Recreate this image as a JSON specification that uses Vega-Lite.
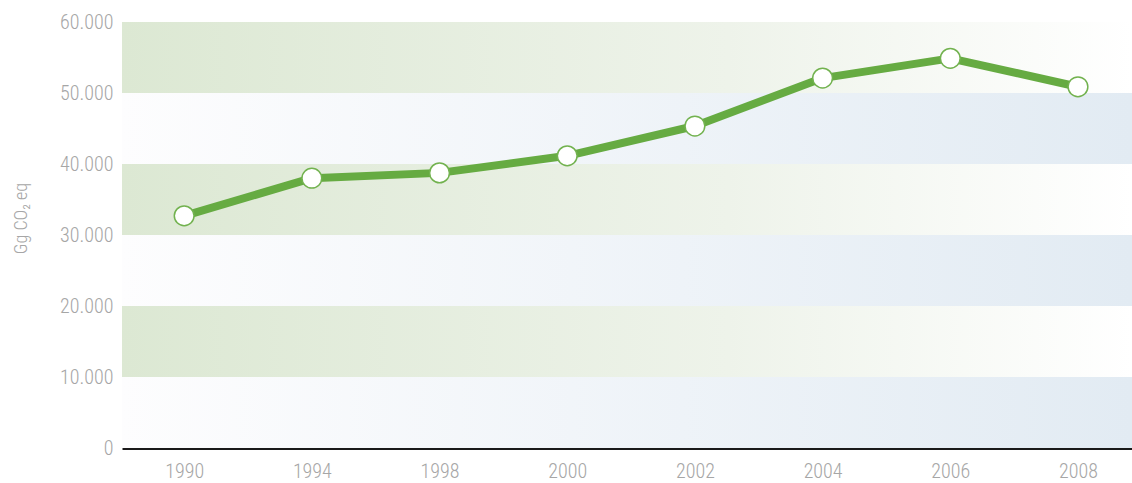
{
  "$schema": "https://vega.github.io/schema/vega-lite/v6.json",
  "width": 1010,
  "height": 426,
  "autosize": {"type": "none"},
  "padding": {"left": 122, "top": 22, "right": 0, "bottom": 35},
  "background": "#ffffff",
  "config": {
    "view": {"stroke": null},
    "font": "Roboto Condensed, DejaVu Sans Condensed, sans-serif"
  },
  "datasets": {
    "series": [
      {"year": "1990", "value": 32700},
      {"year": "1994", "value": 38000},
      {"year": "1998", "value": 38750},
      {"year": "2000", "value": 41150},
      {"year": "2002", "value": 45350},
      {"year": "2004", "value": 52100},
      {"year": "2006", "value": 54880},
      {"year": "2008", "value": 50880}
    ],
    "bands": [
      {"lo": 0, "hi": 10000, "kind": "blue"},
      {"lo": 10000, "hi": 20000, "kind": "green"},
      {"lo": 20000, "hi": 30000, "kind": "blue"},
      {"lo": 30000, "hi": 40000, "kind": "green"},
      {"lo": 40000, "hi": 50000, "kind": "blue"},
      {"lo": 50000, "hi": 60000, "kind": "green"}
    ]
  },
  "layer": [
    {
      "data": {"name": "bands"},
      "transform": [{"filter": "datum.kind === 'green'"}],
      "mark": {
        "type": "rect",
        "color": {
          "gradient": "linear", "x1": 0, "x2": 1, "y1": 0, "y2": 0,
          "stops": [
            {"offset": 0, "color": "#dce8d3"},
            {"offset": 0.6, "color": "#eef3ea"},
            {"offset": 1, "color": "#ffffff"}
          ]
        }
      },
      "encoding": {
        "x": {"value": 0},
        "x2": {"value": "width"},
        "y": {"field": "lo", "type": "quantitative", "scale": {"domain": [0, 60000]}},
        "y2": {"field": "hi"}
      }
    },
    {
      "data": {"name": "bands"},
      "transform": [{"filter": "datum.kind === 'blue'"}],
      "mark": {
        "type": "rect",
        "color": {
          "gradient": "linear", "x1": 0, "x2": 1, "y1": 0, "y2": 0,
          "stops": [
            {"offset": 0, "color": "#fdfdfe"},
            {"offset": 1, "color": "#e2ebf3"}
          ]
        }
      },
      "encoding": {
        "x": {"value": 0},
        "x2": {"value": "width"},
        "y": {"field": "lo", "type": "quantitative"},
        "y2": {"field": "hi"}
      }
    },
    {
      "data": {"name": "series"},
      "mark": {"type": "line", "color": "#66ab42", "strokeWidth": 8, "strokeJoin": "round"},
      "encoding": {
        "x": {
          "field": "year", "type": "ordinal",
          "scale": {"type": "point", "padding": 0.455, "align": 0.535},
          "axis": {
            "title": null, "labelAngle": 0, "ticks": false,
            "domainColor": "#1a1a1a", "domainWidth": 3,
            "labelColor": "#a6a6a6", "labelFontSize": 20, "labelFontWeight": 300, "labelPadding": 13
          }
        },
        "y": {
          "field": "value", "type": "quantitative",
          "scale": {"domain": [0, 60000]},
          "axis": {
            "values": [0, 10000, 20000, 30000, 40000, 50000, 60000],
            "labelExpr": "replace(format(datum.value, ','), ',', '.')",
            "grid": false, "domain": false, "ticks": false,
            "labelColor": "#a6a6a6", "labelFontSize": 20, "labelFontWeight": 300, "labelPadding": 9,
            "title": "Gg CO₂ eq", "titleColor": "#a6a6a6", "titleFontSize": 18,
            "titleFontWeight": 300, "titleAngle": -90,
            "titleX": -92, "titleY": 196, "titleAlign": "center", "titleBaseline": "bottom"
          }
        }
      }
    },
    {
      "data": {"name": "series"},
      "mark": {"type": "point", "filled": true, "fill": "#ffffff", "stroke": "#72b24f", "strokeWidth": 1.5, "size": 390, "opacity": 1},
      "encoding": {
        "x": {"field": "year", "type": "ordinal"},
        "y": {"field": "value", "type": "quantitative"}
      }
    }
  ]
}
